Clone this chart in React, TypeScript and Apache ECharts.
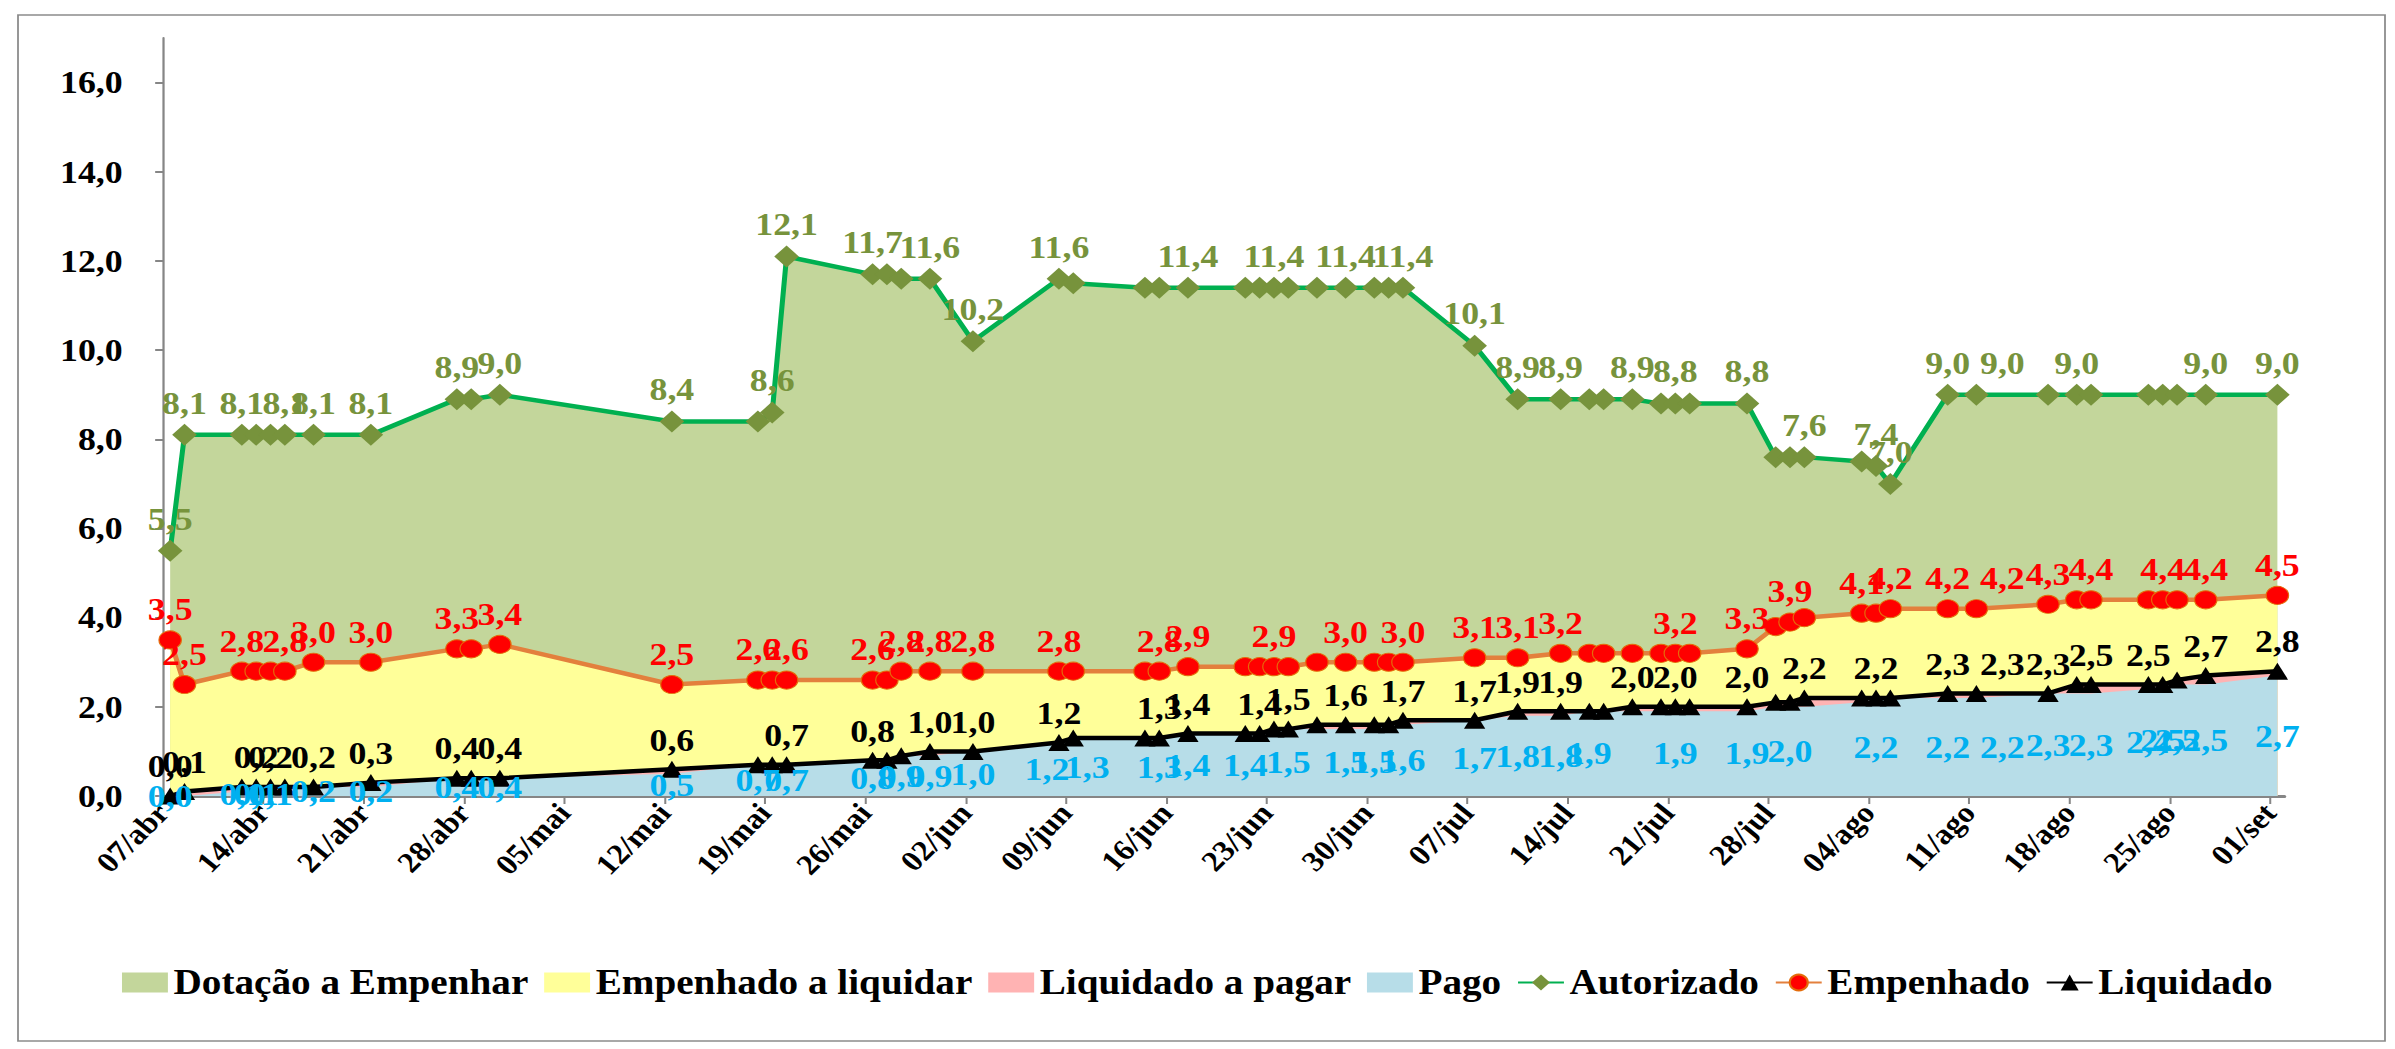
import React, { useEffect, useRef } from 'react';
import * as echarts from 'echarts';

// ---------------- DATA ----------------
// observation dates (dd/mm)
const dates = [
  '07/04', '08/04', '12/04', '13/04', '14/04', '15/04', '17/04', '21/04', '27/04', '28/04', '30/04',
  '12/05', '18/05', '19/05', '20/05', '26/05', '27/05', '28/05', '30/05', '02/06',
  '08/06', '09/06', '14/06', '15/06', '17/06', '21/06', '22/06', '23/06', '24/06',
  '26/06', '28/06', '30/06', '01/07', '02/07',
  '07/07', '10/07', '13/07', '15/07', '16/07', '18/07', '20/07', '21/07', '22/07', '26/07',
  '28/07', '29/07', '30/07', '03/08', '04/08', '05/08', '09/08', '11/08',
  '16/08', '18/08', '19/08', '23/08', '24/08', '25/08', '27/08', '01/09',
];

const autorizado = [
  5.5, 8.1, 8.1, 8.1, 8.1, 8.1, 8.1, 8.1, 8.9, 8.9, 9.0,
  8.4, 8.4, 8.6, 12.1, 11.7, 11.7, 11.6, 11.6, 10.2,
  11.6, 11.5, 11.4, 11.4, 11.4, 11.4, 11.4, 11.4, 11.4,
  11.4, 11.4, 11.4, 11.4, 11.4,
  10.1, 8.9, 8.9, 8.9, 8.9, 8.9, 8.8, 8.8, 8.8, 8.8,
  7.6, 7.6, 7.6, 7.5, 7.4, 7.0, 9.0, 9.0,
  9.0, 9.0, 9.0, 9.0, 9.0, 9.0, 9.0, 9.0,
];

const empenhado = [
  3.5, 2.5, 2.8, 2.8, 2.8, 2.8, 3.0, 3.0, 3.3, 3.3, 3.4,
  2.5, 2.6, 2.6, 2.6, 2.6, 2.6, 2.8, 2.8, 2.8,
  2.8, 2.8, 2.8, 2.8, 2.9, 2.9, 2.9, 2.9, 2.9,
  3.0, 3.0, 3.0, 3.0, 3.0,
  3.1, 3.1, 3.2, 3.2, 3.2, 3.2, 3.2, 3.2, 3.2, 3.3,
  3.8, 3.9, 4.0, 4.1, 4.1, 4.2, 4.2, 4.2,
  4.3, 4.4, 4.4, 4.4, 4.4, 4.4, 4.4, 4.5,
];

const liquidado = [
  0.0, 0.1, 0.2, 0.2, 0.2, 0.2, 0.2, 0.3, 0.4, 0.4, 0.4,
  0.6, 0.7, 0.7, 0.7, 0.8, 0.8, 0.9, 1.0, 1.0,
  1.2, 1.3, 1.3, 1.3, 1.4, 1.4, 1.4, 1.5, 1.5,
  1.6, 1.6, 1.6, 1.6, 1.7,
  1.7, 1.9, 1.9, 1.9, 1.9, 2.0, 2.0, 2.0, 2.0, 2.0,
  2.1, 2.1, 2.2, 2.2, 2.2, 2.2, 2.3, 2.3,
  2.3, 2.5, 2.5, 2.5, 2.5, 2.6, 2.7, 2.8,
];

const pago = [
  0.0, 0.0, 0.1, 0.1, 0.1, 0.1, 0.2, 0.2, 0.4, 0.4, 0.4,
  0.5, 0.7, 0.7, 0.7, 0.8, 0.8, 0.9, 0.9, 1.0,
  1.2, 1.3, 1.3, 1.3, 1.4, 1.4, 1.4, 1.5, 1.5,
  1.5, 1.5, 1.5, 1.6, 1.6,
  1.7, 1.8, 1.8, 1.9, 1.9, 1.9, 1.9, 1.9, 1.9, 1.9,
  2.0, 2.0, 2.0, 2.1, 2.2, 2.2, 2.2, 2.2,
  2.3, 2.3, 2.3, 2.4, 2.5, 2.5, 2.5, 2.7,
];

// dates whose value carries a data label
const autorizadoLabels = ['07/04', '08/04', '12/04', '15/04', '17/04', '21/04', '27/04', '30/04', '12/05', '19/05', '20/05', '26/05', '30/05', '02/06', '08/06', '17/06', '23/06', '28/06', '02/07', '07/07', '10/07', '13/07', '18/07', '21/07', '26/07', '30/07', '04/08', '05/08', '09/08', '11/08', '18/08', '27/08', '01/09'];
const empenhadoLabels = ['07/04', '08/04', '12/04', '15/04', '17/04', '21/04', '27/04', '30/04', '12/05', '18/05', '20/05', '26/05', '28/05', '30/05', '02/06', '08/06', '15/06', '17/06', '23/06', '28/06', '02/07', '07/07', '10/07', '13/07', '21/07', '26/07', '29/07', '03/08', '05/08', '09/08', '11/08', '16/08', '19/08', '24/08', '27/08', '01/09'];
const liquidadoLabels = ['07/04', '08/04', '13/04', '14/04', '17/04', '21/04', '27/04', '30/04', '12/05', '20/05', '26/05', '30/05', '02/06', '08/06', '15/06', '17/06', '22/06', '24/06', '28/06', '02/07', '07/07', '10/07', '13/07', '18/07', '21/07', '26/07', '30/07', '04/08', '09/08', '11/08', '16/08', '19/08', '23/08', '27/08', '01/09'];
const pagoLabels = ['07/04', '12/04', '13/04', '14/04', '17/04', '21/04', '27/04', '30/04', '12/05', '18/05', '20/05', '26/05', '28/05', '30/05', '02/06', '08/06', '09/06', '15/06', '17/06', '21/06', '24/06', '28/06', '30/06', '02/07', '07/07', '10/07', '13/07', '15/07', '21/07', '26/07', '29/07', '04/08', '09/08', '11/08', '16/08', '19/08', '23/08', '24/08', '25/08', '27/08', '01/09'];

const tickLabels = ['07/abr', '14/abr', '21/abr', '28/abr', '05/mai', '12/mai', '19/mai', '26/mai', '02/jun', '09/jun', '16/jun', '23/jun', '30/jun', '07/jul', '14/jul', '21/jul', '28/jul', '04/ago', '11/ago', '18/ago', '25/ago', '01/set'];
const yTicks = [0, 2, 4, 6, 8, 10, 12, 14, 16];

// ---------------- LAYOUT / STYLE ----------------
const W = 2395;
const H = 1049;
const S = 1.12; // horizontal stretch of the original picture
const IW = W / S;
const FONT = '"Liberation Serif", "Times New Roman", serif';

// small horizontal label nudges (px, final picture)
const labelShift: Record<string, number> = { '11/08': 26 };
const pagoShift: Record<string, number> = { '08/06': -12, '09/06': 14, '11/08': 26 };

const months = ['jan', 'fev', 'mar', 'abr', 'mai', 'jun', 'jul', 'ago', 'set', 'out', 'nov', 'dez'];
const BASE = Date.UTC(2020, 3, 7);
const DAY = 86400000;
const dayOfNum = (s: string) => {
  const [d, m] = s.split('/').map(Number);
  return Math.round((Date.UTC(2020, m - 1, d) - BASE) / DAY);
};
const dayOfTick = (s: string) => {
  const [d, mm] = s.split('/');
  return Math.round((Date.UTC(2020, months.indexOf(mm), Number(d)) - BASE) / DAY);
};
const tickDays = tickLabels.map(dayOfTick);
const tickMap: Record<number, string> = {};
tickLabels.forEach((t, i) => { tickMap[tickDays[i]] = t; });

// points are centred in their day slot
const xs = dates.map((d) => dayOfNum(d) + 0.5);
const fmt = (v: number) => v.toFixed(1).replace('.', ',');

const labelFont = { fontFamily: FONT, fontWeight: 'bold' as const, fontSize: 32 };

function lineSeries(
  name: string,
  values: number[],
  labelDates: string[],
  lineColor: string,
  symbol: string,
  symbolSize: number | number[],
  symbolColor: string,
  labelColor: string,
  border?: string,
) {
  return {
    name,
    type: 'line',
    data: dates.map((d, i) => ({
      value: [xs[i], values[i]],
      label: { show: labelDates.includes(d), offset: [(labelShift[d] || 0) / S, 0] },
    })),
    symbol,
    symbolSize,
    showSymbol: true,
    showAllSymbol: true,
    lineStyle: { color: lineColor, width: 4.5 },
    itemStyle: { color: symbolColor, borderColor: border || symbolColor, borderWidth: border ? 1 : 0 },
    label: {
      show: false,
      position: 'top',
      distance: 5,
      color: labelColor,
      ...labelFont,
      formatter: (p: any) => fmt(p.value[1]),
    },
    emphasis: { disabled: true },
    z: 5,
  };
}

function areaSeries(name: string, values: number[], color: string) {
  return {
    name,
    type: 'line',
    data: dates.map((d, i) => [xs[i], values[i]]),
    symbol: 'none',
    showSymbol: false,
    lineStyle: { width: 0, opacity: 0 },
    itemStyle: { color },
    areaStyle: { color, opacity: 1 },
    emphasis: { disabled: true },
    silent: true,
    z: 1,
  };
}

const option: any = {
  animation: false,
  backgroundColor: '#ffffff',
  grid: { left: 163 / S, right: 110 / S, top: 38, bottom: 253, containLabel: false },
  xAxis: {
    type: 'value',
    min: 0,
    max: 148,
    interval: 7,
    splitLine: { show: false },
    axisLine: { show: true, lineStyle: { color: '#868686', width: 3 } },
    axisTick: { show: true, length: 8, customValues: tickDays, lineStyle: { color: '#868686', width: 1.8 } },
    axisLabel: {
      customValues: tickDays,
      rotate: 48,
      margin: 12,
      color: '#000',
      fontFamily: FONT,
      fontWeight: 'bold',
      fontSize: 29,
      formatter: (v: number) => tickMap[Math.round(v)] ?? '',
    },
  },
  yAxis: {
    type: 'value',
    min: 0,
    max: 17,
    interval: 2,
    splitLine: { show: false },
    axisLine: { show: true, lineStyle: { color: '#868686', width: 2 } },
    axisTick: { show: true, length: 7, customValues: yTicks, lineStyle: { color: '#868686', width: 2 } },
    axisLabel: {
      customValues: yTicks,
      margin: 36,
      color: '#000',
      fontFamily: FONT,
      fontWeight: 'bold',
      fontSize: 32,
      formatter: (v: number) => (v <= 16 ? fmt(v) : ''),
    },
  },
  legend: {
    left: 'center',
    top: 960,
    itemWidth: 41,
    itemHeight: 20,
    itemGap: 14,
    textStyle: { fontFamily: FONT, fontWeight: 'bold', fontSize: 35, color: '#000' },
    data: [
      { name: 'Dotação a Empenhar', icon: 'rect' },
      { name: 'Empenhado a liquidar', icon: 'rect' },
      { name: 'Liquidado a pagar', icon: 'rect' },
      { name: 'Pago', icon: 'rect' },
      'Autorizado',
      'Empenhado',
      'Liquidado',
    ],
  },
  graphic: {
    elements: [
      {
        type: 'rect',
        silent: true,
        z: -10,
        shape: { x: 18 / S, y: 15, width: (2385 - 18) / S, height: 1041 - 15 },
        style: { fill: 'none', stroke: '#8c8c8c', lineWidth: 1.6 },
      },
    ],
  },
  series: [
    areaSeries('Dotação a Empenhar', autorizado, '#C3D69B'),
    areaSeries('Empenhado a liquidar', empenhado, '#FFFF99'),
    areaSeries('Liquidado a pagar', liquidado, '#FFB3B3'),
    areaSeries('Pago', pago, '#B7DDE8'),
    lineSeries('Autorizado', autorizado, autorizadoLabels, '#00B050', 'diamond', [22, 22], '#77933C', '#77933C'),
    lineSeries('Empenhado', empenhado, empenhadoLabels, '#E3803D', 'circle', [20, 18], '#FF0000', '#FF0000', '#E46C0A'),
    lineSeries('Liquidado', liquidado, liquidadoLabels, '#000000', 'triangle', [19, 17], '#000000', '#000000'),
    {
      name: 'PagoRotulo',
      type: 'line',
      data: dates.map((d, i) => ({
        value: [xs[i], pago[i] / 2],
        label: { show: pagoLabels.includes(d), offset: [(pagoShift[d] || 0) / S, 0] },
      })),
      symbol: 'circle',
      symbolSize: 1,
      showSymbol: true,
      showAllSymbol: true,
      itemStyle: { color: 'transparent' },
      lineStyle: { width: 0, opacity: 0 },
      label: {
        show: false,
        position: 'inside',
        color: '#00B0F0',
        ...labelFont,
        formatter: (p: any) => fmt(pago[p.dataIndex]),
      },
      emphasis: { disabled: true },
      silent: true,
      z: 6,
    },
  ],
};

export default function App() {
  const ref = useRef<HTMLDivElement>(null);
  useEffect(() => {
    if (!ref.current) return;
    const chart = echarts.init(ref.current, null, { renderer: 'svg' });
    chart.setOption(option);
    return () => chart.dispose();
  }, []);
  return (
    <div style={{ position: 'absolute', left: 0, top: 0, width: W, height: H, overflow: 'hidden', background: '#fff' }}>
      <div
        ref={ref}
        style={{ width: IW, height: H, transform: `scaleX(${S})`, transformOrigin: '0 0' }}
      />
    </div>
  );
}
